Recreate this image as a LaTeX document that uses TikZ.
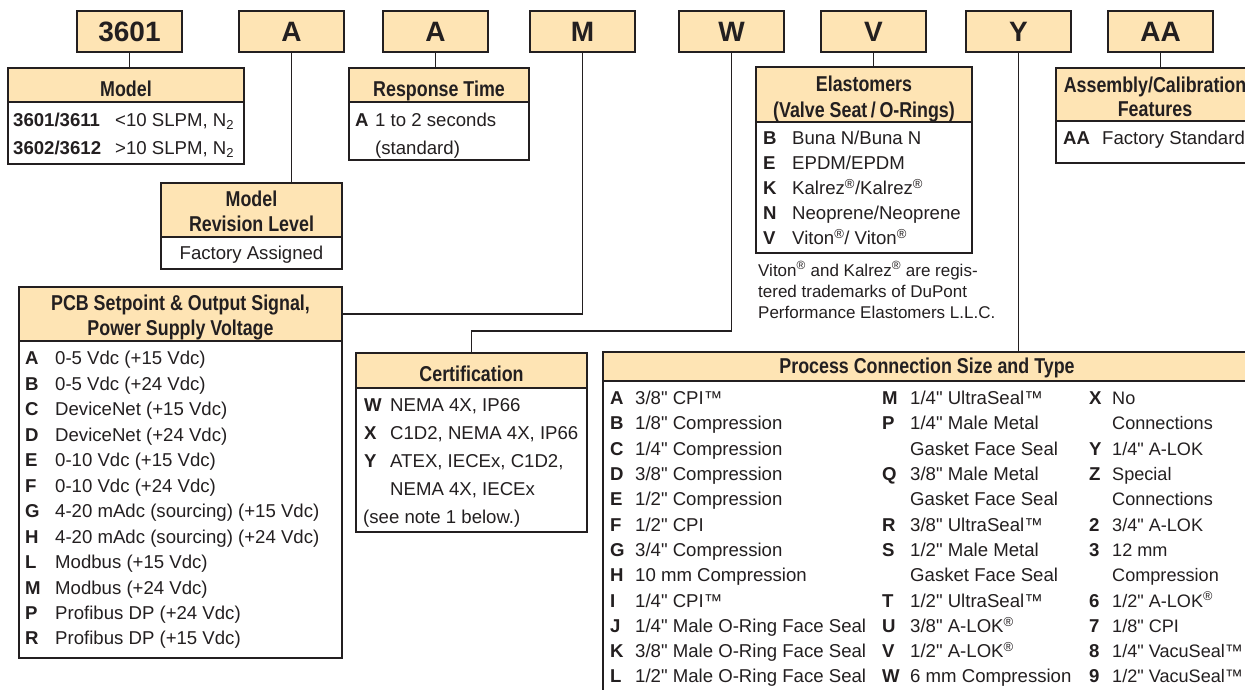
\documentclass[tikz,border=0pt]{standalone}
\usepackage{fontspec}
\setmainfont{Liberation Sans}[Ligatures=TeXOff]
\newfontfamily\hdrfam{Liberation Sans}[FakeStretch=0.83]
\definecolor{dk}{RGB}{35,31,32}
\definecolor{peach}{RGB}{254,228,180}
\newcommand{\topf}{\fontsize{28}{32}\selectfont\bfseries}
\newcommand{\hdrf}{\hdrfam\fontsize{21.5}{25}\selectfont\bfseries}
\newcommand{\bodyf}{\fontsize{18.6}{25}\selectfont}
\newcommand{\lblf}{\fontsize{18.6}{25}\selectfont\bfseries}
\newcommand{\notef}{\fontsize{17}{21}\selectfont}
\newcommand{\rg}{\textsuperscript{®}}
\tikzset{
  topbox/.style={draw=dk, fill=peach, line width=1.8pt, minimum width=105pt, minimum height=41pt, inner sep=0pt, outer sep=0pt, font=\topf, text=dk, anchor=north west},
  hbox/.style={draw=dk, fill=peach, line width=1.8pt, inner sep=0pt, outer sep=0pt, anchor=north west},
  bbox/.style={draw=dk, fill=white, line width=1.8pt, inner sep=0pt, outer sep=0pt, anchor=north west},
  conn/.style={draw=dk, line width=1.3pt},
  htxt/.style={font=\hdrf, text=dk, inner sep=0pt, text height=15.4pt, text depth=0pt, anchor=center},
  lbl/.style={font=\lblf, text=dk, inner sep=0pt, text height=13.3pt, text depth=0pt, anchor=west},
  itm/.style={font=\bodyf, text=dk, inner sep=0pt, text height=13.3pt, text depth=0pt, anchor=west},
  itmnarrow/.style={itm, font=\fontsize{18.1}{25}\selectfont},
  notetxt/.style={font=\notef, text=dk, inner sep=0pt, text height=12.2pt, text depth=0pt, anchor=west}
}
\begin{document}
\begin{tikzpicture}[x=1pt, y=-1pt]
\useasboundingbox (0,0) rectangle (1245,690);
\fill[white] (0,0) rectangle (1245,690);

% top code boxes
\node[topbox] (t3601) at (77,11) {3601};
\node[topbox] (tA1) at (239,11) {A};
\node[topbox] (tA2) at (383,11) {A};
\node[topbox] (tM) at (530,11) {M};
\node[topbox] (tW) at (679,11) {W};
\node[topbox] (tV) at (821,11) {V};
\node[topbox] (tY) at (966,11) {Y};
\node[topbox] (tAA) at (1108,11) {AA};

% boxes: bodies then headers
\node[bbox, minimum width=236pt, minimum height=62pt] (modelB) at (8,102) {};
\node[hbox, minimum width=236pt, minimum height=34pt] (modelH) at (8,68) {};
\node[bbox, minimum width=180pt, minimum height=58pt] (respB) at (349,102) {};
\node[hbox, minimum width=180pt, minimum height=34pt] (respH) at (349,68) {};
\node[bbox, minimum width=181pt, minimum height=32pt] (revB) at (161,237) {};
\node[hbox, minimum width=181pt, minimum height=54pt] (revH) at (161,183) {};
\node[bbox, minimum width=216pt, minimum height=131pt] (elB) at (756,122) {};
\node[hbox, minimum width=216pt, minimum height=55pt] (elH) at (756,67) {};
\node[bbox, minimum width=198pt, minimum height=42pt] (asB) at (1056,121) {};
\node[hbox, minimum width=198pt, minimum height=53pt] (asH) at (1056,68) {};
\node[bbox, minimum width=323pt, minimum height=317pt] (pcbB) at (19,341) {};
\node[hbox, minimum width=323pt, minimum height=54pt] (pcbH) at (19,287) {};
\node[bbox, minimum width=231pt, minimum height=144pt] (certB) at (356,388) {};
\node[hbox, minimum width=231pt, minimum height=35pt] (certH) at (356,353) {};
\node[bbox, minimum width=648pt, minimum height=330pt] (procB) at (603,381) {};
\node[hbox, minimum width=648pt, minimum height=29pt] (procH) at (603,352) {};

% connectors
\draw[conn] (t3601.south) -- (t3601.south |- modelH.north);
\draw[conn] (tA1.south) -- (tA1.south |- revH.north);
\draw[conn] (tA2.south) -- (tA2.south |- respH.north);
\draw[conn] (tM.south) |- (pcbH.east);
\coordinate (wbend) at (732,331);
\draw[conn] (tW.south) -- (tW.south |- wbend) -| (certH.north);
\draw[conn] (tV.south) -- (tV.south |- elH.north);
\draw[conn] (tY.south) -- (tY.south |- procH.north);
\draw[conn] (tAA.south) -- (tAA.south |- asH.north);

% header texts
\node[htxt] (modelHt) at (126,89) {Model};
\node[htxt] (respHt) at (439,89) {Response Time};
\node[htxt] (elHt1) at (864,84) {Elastomers};
\node[htxt] (elHt2) at (864,110) {(Valve Seat\,/\,O-Rings)};
\node[htxt] (asHt1) at (1155,85) {Assembly/Calibration};
\node[htxt] (asHt2) at (1155,109) {Features};
\node[htxt] (revHt1) at (251.5,199) {Model};
\node[htxt] (revHt2) at (251.5,224) {Revision Level};
\node[htxt] (pcbHt1) at (180.5,303) {PCB Setpoint \& Output Signal,};
\node[htxt] (pcbHt2) at (180.5,328) {Power Supply Voltage};
\node[htxt] (certHt) at (471.5,374) {Certification};
\node[htxt] (procHt) at (927,366) {Process Connection Size and Type};

% model
\node[lbl] (m1k) at (13,120) {3601/3611};
\node[itm] (m1t) at (115,120) {<10 SLPM, N\textsubscript{2}};
\node[lbl] (m2k) at (13,148) {3602/3612};
\node[itm] (m2t) at (115,148) {>10 SLPM, N\textsubscript{2}};

% response time
\node[lbl] (r1k) at (355,120) {A};
\node[itm] (r1t) at (375,120) {1 to 2 seconds};
\node[itm] (r2t) at (375,148) {(standard)};

% revision
\node[itm, anchor=center] (rev1) at (251.5,253) {Factory Assigned};

% assembly
\node[lbl] (as1k) at (1063,138) {AA};
\node[itm] (as1t) at (1102,138) {Factory Standard};

% elastomers
\foreach \k/\t [count=\i from 0] in {B/{Buna N/Buna N}, E/{EPDM/EPDM}, K/{Kalrez\rg/Kalrez\rg}, N/{Neoprene/Neoprene}, V/{Viton\rg/ Viton\rg}}{
  \node[lbl] (elk\i) at (763,{138+\i*25}) {\k};
  \node[itm] (elt\i) at (792,{138+\i*25}) {\t};
}
\node[notetxt] (note1) at (758,270) {Viton\rg{} and Kalrez\rg{} are regis-};
\node[notetxt] (note2) at (758,291) {tered trademarks of DuPont};
\node[notetxt] (note3) at (758,312) {Performance Elastomers L.L.C.};

% PCB list
\foreach \k/\t [count=\i from 0] in {A/{0-5 Vdc (+15 Vdc)}, B/{0-5 Vdc (+24 Vdc)}, C/{DeviceNet (+15 Vdc)}, D/{DeviceNet (+24 Vdc)}, E/{0-10 Vdc (+15 Vdc)}, F/{0-10 Vdc (+24 Vdc)}, G/{4-20 mAdc (sourcing) (+15 Vdc)}, H/{4-20 mAdc (sourcing) (+24 Vdc)}, L/{Modbus (+15 Vdc)}, M/{Modbus (+24 Vdc)}, P/{Profibus DP (+24 Vdc)}, R/{Profibus DP (+15 Vdc)}}{
  \node[lbl] (pcbk\i) at (25,{358.3+\i*25.45}) {\k};
  \node[itm] (pcbt\i) at (55,{358.3+\i*25.45}) {\t};
}

% certification
\node[lbl] (c1k) at (364,405) {W};
\node[itm] (c1t) at (390,405) {NEMA 4X, IP66};
\node[lbl] (c2k) at (364,433) {X};
\node[itm] (c2t) at (390,433) {C1D2, NEMA 4X, IP66};
\node[lbl] (c3k) at (364,461) {Y};
\node[itm] (c3t) at (390,461) {ATEX, IECEx, C1D2,};
\node[itm] (c4t) at (390,489) {NEMA 4X, IECEx};
\node[itm] (c5t) at (363,517) {(see note 1 below.)};

% process connection
\foreach \k/\t [count=\i from 0] in {A/{3/8" CPI™}, B/{1/8" Compression}, C/{1/4" Compression}, D/{3/8" Compression}, E/{1/2" Compression}, F/{1/2" CPI}, G/{3/4" Compression}, H/{10 mm Compression}, I/{1/4" CPI™}, J/{1/4" Male O-Ring Face Seal}, K/{3/8" Male O-Ring Face Seal}, L/{1/2" Male O-Ring Face Seal}}{
  \node[lbl] (pak\i) at (610,{398+\i*25.3}) {\k};
  \node[itm] (pat\i) at (635,{398+\i*25.3}) {\t};
}
\foreach \k/\t [count=\i from 0] in {M/{1/4" UltraSeal™}, P/{1/4" Male Metal}, {}/{Gasket Face Seal}, Q/{3/8" Male Metal}, {}/{Gasket Face Seal}, R/{3/8" UltraSeal™}, S/{1/2" Male Metal}, {}/{Gasket Face Seal}, T/{1/2" UltraSeal™}, U/{3/8" A-LOK\rg}, V/{1/2" A-LOK\rg}, W/{6 mm Compression}}{
  \node[lbl] (pbk\i) at (882,{398+\i*25.3}) {\k};
  \node[itm] (pbt\i) at (910,{398+\i*25.3}) {\t};
}
\foreach \k/\t [count=\i from 0] in {X/{No}, {}/{Connections}, Y/{1/4" A-LOK}, Z/{Special}, {}/{Connections}, 2/{3/4" A-LOK}, 3/{12 mm}, {}/{Compression}, 6/{1/2" A-LOK\rg}, 7/{1/8" CPI}, 8/{1/4" VacuSeal™}, 9/{1/2" VacuSeal™}}{
  \node[lbl] (pck\i) at (1089,{398+\i*25.3}) {\k};
  \node[itmnarrow] (pct\i) at (1112,{398+\i*25.3}) {\t};
}
\end{tikzpicture}
\end{document}
